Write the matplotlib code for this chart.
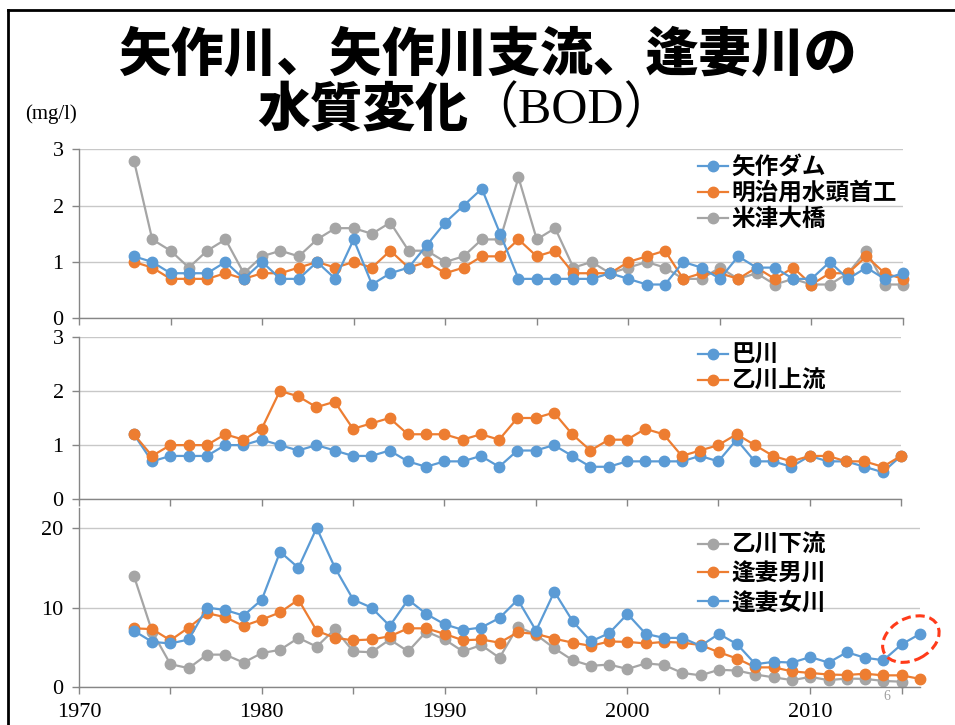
import numpy as np
import matplotlib
matplotlib.use('Agg')
import matplotlib.pyplot as plt
from matplotlib.patches import Ellipse
from matplotlib.lines import Line2D
from matplotlib.transforms import IdentityTransform

# BOD (mg/l) per year
years_top = list(range(1973, 2016))
years_bot = list(range(1973, 2017))

yahagi_dam = [1.1, 1.0, 0.8, 0.8, 0.8, 1.0, 0.7, 1.0, 0.7, 0.7, 1.0, 0.7, 1.4, 0.6, 0.8,
              0.9, 1.3, 1.7, 2.0, 2.3, 1.5, 0.7, 0.7, 0.7, 0.7, 0.7, 0.8, 0.7, 0.6, 0.6,
              1.0, 0.9, 0.7, 1.1, 0.9, 0.9, 0.7, 0.7, 1.0, 0.7, 0.9, 0.7, 0.8]
meiji_yosui = [1.0, 0.9, 0.7, 0.7, 0.7, 0.8, 0.7, 0.8, 0.8, 0.9, 1.0, 0.9, 1.0, 0.9, 1.2,
               0.9, 1.0, 0.8, 0.9, 1.1, 1.1, 1.4, 1.1, 1.2, 0.8, 0.8, 0.8, 1.0, 1.1, 1.2,
               0.7, 0.8, 0.8, 0.7, 0.9, 0.7, 0.9, 0.6, 0.8, 0.8, 1.1, 0.8, 0.7]
yonezu = [2.8, 1.4, 1.2, 0.9, 1.2, 1.4, 0.8, 1.1, 1.2, 1.1, 1.4, 1.6, 1.6, 1.5, 1.7,
          1.2, 1.2, 1.0, 1.1, 1.4, 1.4, 2.5, 1.4, 1.6, 0.9, 1.0, 0.8, 0.9, 1.0, 0.9,
          0.7, 0.7, 0.9, 0.7, 0.8, 0.6, 0.7, 0.6, 0.6, 0.8, 1.2, 0.6, 0.6]

tomoe = [1.2, 0.7, 0.8, 0.8, 0.8, 1.0, 1.0, 1.1, 1.0, 0.9, 1.0, 0.9, 0.8, 0.8, 0.9,
         0.7, 0.6, 0.7, 0.7, 0.8, 0.6, 0.9, 0.9, 1.0, 0.8, 0.6, 0.6, 0.7, 0.7, 0.7,
         0.7, 0.8, 0.7, 1.1, 0.7, 0.7, 0.6, 0.8, 0.7, 0.7, 0.6, 0.5, 0.8]
oto_upper = [1.2, 0.8, 1.0, 1.0, 1.0, 1.2, 1.1, 1.3, 2.0, 1.9, 1.7, 1.8, 1.3, 1.4, 1.5,
             1.2, 1.2, 1.2, 1.1, 1.2, 1.1, 1.5, 1.5, 1.6, 1.2, 0.9, 1.1, 1.1, 1.3, 1.2,
             0.8, 0.9, 1.0, 1.2, 1.0, 0.8, 0.7, 0.8, 0.8, 0.7, 0.7, 0.6, 0.8]

oto_lower = [14.0, 7.0, 2.9, 2.4, 4.1, 4.1, 3.1, 4.3, 4.7, 6.2, 5.1, 7.3, 4.5, 4.4, 6.0,
             4.5, 7.0, 6.0, 4.5, 5.3, 3.7, 7.6, 6.6, 4.9, 3.4, 2.7, 2.85, 2.3, 3.0, 2.8,
             1.8, 1.5, 2.2, 2.1, 1.6, 1.25, 0.9, 1.3, 0.9, 1.1, 1.05, 0.8, 0.7, np.nan]
aizuma_o = [7.4, 7.3, 5.9, 7.5, 9.3, 8.8, 7.7, 8.5, 9.4, 11.0, 7.1, 6.2, 5.9, 6.0, 6.4,
            7.4, 7.4, 6.7, 5.9, 6.0, 5.6, 6.9, 6.7, 6.1, 5.6, 5.2, 5.75, 5.7, 5.5, 5.7,
            5.6, 5.3, 4.4, 3.6, 2.5, 2.5, 2.0, 1.8, 1.6, 1.55, 1.7, 1.5, 1.5, 1.05]
aizuma_me = [7.1, 5.7, 5.5, 6.0, 10.0, 9.7, 9.0, 11.0, 17.0, 15.0, 20.0, 15.0, 11.0, 10.0, 7.7,
             11.0, 9.2, 7.9, 7.2, 7.5, 8.7, 11.0, 7.1, 12.0, 8.3, 5.75, 6.8, 9.2, 6.7, 6.2,
             6.2, 5.2, 6.7, 5.4, 2.9, 3.2, 3.1, 3.8, 3.1, 4.4, 3.7, 3.4, 5.4, 6.7]

BLUE = '#5B9BD5'
ORANGE = '#ED7D31'
GRAY = '#A5A5A5'
AXIS = '#868686'
GRID = '#C8C8C8'

W, H = 955, 725
SERIF = ['Liberation Serif', 'DejaVu Serif']
JP = ['Noto Sans CJK JP', 'DejaVu Sans']

fig = plt.figure(figsize=(W / 100, H / 100), dpi=100)


def px_axes(left, top, right, bottom):
    return fig.add_axes([left / W, 1 - bottom / H, (right - left) / W, (bottom - top) / H])


def style(ax, xmax, ymax, ystep, xlabels):
    ax.set_xlim(1970, xmax)
    ax.set_ylim(0, ymax)
    ax.set_yticks(np.arange(0, ymax + 0.01, ystep))
    ax.set_xticks(range(1970, 2016, 5))
    if xlabels:
        ax.set_xticklabels([str(y) if y % 10 == 0 else '' for y in range(1970, 2016, 5)])
    else:
        ax.set_xticklabels([])
    for s in ['top', 'right']:
        ax.spines[s].set_visible(False)
    for s in ['left', 'bottom']:
        ax.spines[s].set_color(AXIS)
        ax.spines[s].set_linewidth(1)
    ax.grid(axis='y', color=GRID, linewidth=1)
    ax.set_axisbelow(True)
    ax.tick_params(axis='both', direction='out', length=5, color=AXIS, width=1,
                   labelsize=16, pad=6)
    for lab in ax.get_xticklabels() + ax.get_yticklabels():
        lab.set_family(SERIF)


def series(ax, x, y, color, label):
    ax.plot(x, y, color=color, lw=1.6, marker='o', ms=7.5, label=label, clip_on=False)


ax1 = px_axes(79, 149.3, 903, 318.3)
style(ax1, 2015, 3, 1, False)
series(ax1, years_top, yonezu, GRAY, '米津大橋')
series(ax1, years_top, meiji_yosui, ORANGE, '明治用水頭首工')
series(ax1, years_top, yahagi_dam, BLUE, '矢作ダム')

ax2 = px_axes(79, 336.7, 901, 499.3)
style(ax2, 2015, 3, 1, False)
series(ax2, years_top, tomoe, BLUE, '巴川')
series(ax2, years_top, oto_upper, ORANGE, '乙川上流')

ax3 = px_axes(79, 508, 920, 687.3)
style(ax3, 2016, 22.5, 10, True)
series(ax3, years_bot, oto_lower, GRAY, '乙川下流')
series(ax3, years_bot, aizuma_o, ORANGE, '逢妻男川')
series(ax3, years_bot, aizuma_me, BLUE, '逢妻女川')


def legend(ax, labels, colors, x, y, spacing):
    handles = [Line2D([], [], color=c, lw=1.6, marker='o', ms=7.5) for c in colors]
    leg = ax.legend(handles, labels, loc='upper left', bbox_to_anchor=(x / W, 1 - y / H),
                    bbox_transform=fig.transFigure, frameon=False, borderpad=0,
                    borderaxespad=0, handlelength=1.25, handletextpad=0.15,
                    labelspacing=spacing,
                    prop={'family': JP, 'weight': 'bold', 'size': 17})
    return leg


legend(ax1, ['矢作ダム', '明治用水頭首工', '米津大橋'], [BLUE, ORANGE, GRAY], 698, 155, 0.08)
legend(ax2, ['巴川', '乙川上流'], [BLUE, ORANGE], 698, 343, 0.08)
legend(ax3, ['乙川下流', '逢妻男川', '逢妻女川'], [GRAY, ORANGE, BLUE], 698, 533, 0.2)

# dashed ring around the last two 逢妻女川 points
cx = (years_bot[-2] + years_bot[-1]) / 2
cy = (aizuma_me[-2] + aizuma_me[-1]) / 2
center = ax3.transData.transform((cx, cy))
fig.add_artist(Ellipse(center, 60, 42, angle=28, transform=IdentityTransform(),
                       fill=False, edgecolor='#FF3B1A', lw=2.2, ls=(0, (3, 1.6)),
                       clip_on=False))

# title
fig.text(487 / W, 1 - 55 / H, '矢作川、矢作川支流、逢妻川の', ha='center', va='center',
         family=JP, weight='heavy', size=38)
fig.text(468 / W, 1 - 110 / H, '水質変化', ha='right', va='center',
         family=JP, weight='heavy', size=38)
fig.text(468 / W, 1 - 110 / H, '（BOD）', ha='left', va='center',
         family=SERIF + ['Noto Sans CJK JP'], size=36)
fig.text(25 / W, 1 - 114 / H, '(mg/l)', ha='left', va='center', family=SERIF, size=15)
fig.text(887 / W, 1 - 697 / H, '6', ha='center', va='center', family=SERIF, size=10,
         color='#A0A0A0')

# slide frame
fig.add_artist(Line2D([7.5 / W, 7.5 / W], [0, 1 - 10 / H], transform=fig.transFigure,
                      color='black', lw=2))
fig.add_artist(Line2D([7.5 / W, 1], [1 - 10 / H, 1 - 10 / H], transform=fig.transFigure,
                      color='black', lw=2))

fig.savefig('out.png', dpi=100)
